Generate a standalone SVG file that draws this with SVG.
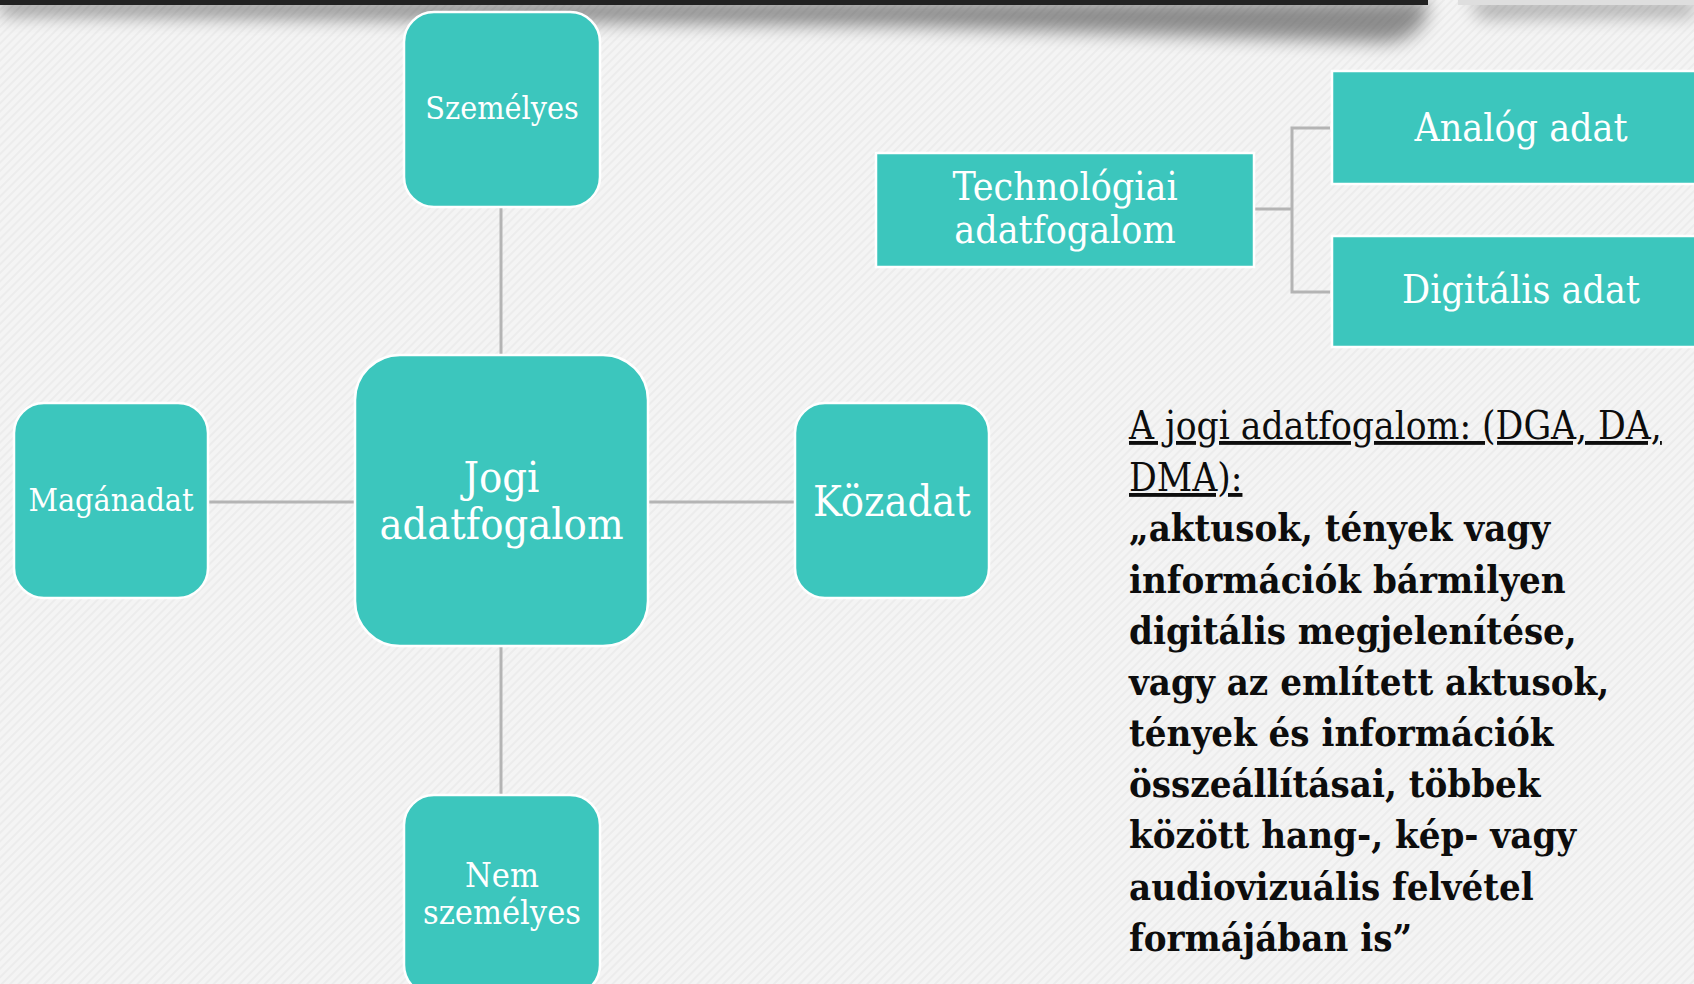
<svg xmlns="http://www.w3.org/2000/svg" width="1694" height="984" viewBox="0 0 1694 984">
<defs>
<style>
.node{fill:#3cc6bd;stroke:#ffffff;stroke-width:2.5}
.lbl{font-family:"DejaVu Serif Condensed","DejaVu Serif",serif;font-stretch:condensed;fill:#ffffff;text-anchor:middle}
.conn{stroke:#b4b4b4;stroke-width:3;fill:none}
.body{font-family:"DejaVu Serif Condensed","DejaVu Serif",serif;font-stretch:condensed;fill:#0d0d0d;font-size:38.5px}
.b{font-weight:bold;font-size:38px}
</style>
<pattern id="stripes" width="6" height="6" patternUnits="userSpaceOnUse" patternTransform="rotate(-45)">
<rect width="6" height="6" fill="#f4f4f4"/>
<rect width="6" height="2" fill="#ececec"/>
</pattern>
<filter id="blur" x="-10%" y="-200%" width="120%" height="500%">
<feGaussianBlur stdDeviation="9"/>
</filter>
</defs>
<rect width="1694" height="984" fill="url(#stripes)"/>
<g id="topbar">
<path d="M0,0 L1428,0 L1426,18 Q1412,46 1370,42 L900,26 L0,14 Z" fill="#000" opacity="0.42" filter="url(#blur)"/>
<path d="M1470,0 L1694,0 L1694,16 L1480,18 Z" fill="#000" opacity="0.3" filter="url(#blur)"/>
<rect x="0" y="0" width="1428" height="5" fill="#222222"/>
<rect x="1458" y="0" width="236" height="5" fill="#dedede"/>
</g>
<g id="connectors">
<line class="conn" x1="501" y1="207" x2="501" y2="355"/>
<line class="conn" x1="501" y1="646" x2="501" y2="795"/>
<line class="conn" x1="208" y1="502" x2="355" y2="502"/>
<line class="conn" x1="648" y1="502" x2="795" y2="502"/>
<polyline class="conn" points="1254,209 1292,209"/>
<polyline class="conn" points="1330,128 1292,128 1292,292 1330,292"/>
</g>
<g id="szemelyes">
<rect class="node" x="404" y="12" width="196" height="195" rx="30"/>
<text class="lbl" x="502" y="119" font-size="32">Személyes</text>
</g>
<g id="maganadat">
<rect class="node" x="14" y="403" width="194" height="195" rx="30"/>
<text class="lbl" x="111" y="511" font-size="32">Magánadat</text>
</g>
<g id="jogi">
<rect class="node" x="355" y="355" width="293" height="291" rx="45"/>
<text class="lbl" x="501.5" y="492" font-size="43">Jogi</text>
<text class="lbl" x="501.5" y="539" font-size="43">adatfogalom</text>
</g>
<g id="kozadat">
<rect class="node" x="795" y="403" width="194" height="195" rx="30"/>
<text class="lbl" x="892" y="516" font-size="43">Közadat</text>
</g>
<g id="nemszemelyes">
<rect class="node" x="404" y="795" width="196" height="200" rx="30"/>
<text class="lbl" x="502" y="887" font-size="34">Nem</text>
<text class="lbl" x="502" y="924" font-size="34">személyes</text>
</g>
<g id="technologiai">
<rect class="node" x="876" y="153" width="378" height="114"/>
<text class="lbl" x="1065" y="200" font-size="39">Technológiai</text>
<text class="lbl" x="1065" y="243" font-size="39">adatfogalom</text>
</g>
<g id="analog">
<rect class="node" x="1332" y="71" width="378" height="113"/>
<text class="lbl" x="1521" y="141" font-size="39">Analóg adat</text>
</g>
<g id="digitalis">
<rect class="node" x="1332" y="236" width="378" height="111"/>
<text class="lbl" x="1521" y="303" font-size="39">Digitális adat</text>
</g>
<g id="definition">
<text class="body" x="1129" y="439" text-decoration="underline">A jogi adatfogalom: (DGA, DA,</text>
<text class="body" x="1129" y="491" text-decoration="underline">DMA):</text>
<text class="body b" x="1129" y="541">„aktusok, tények vagy</text>
<text class="body b" x="1129" y="593">információk bármilyen</text>
<text class="body b" x="1129" y="644">digitális megjelenítése,</text>
<text class="body b" x="1129" y="695">vagy az említett aktusok,</text>
<text class="body b" x="1129" y="746">tények és információk</text>
<text class="body b" x="1129" y="797">összeállításai, többek</text>
<text class="body b" x="1129" y="848">között hang-, kép- vagy</text>
<text class="body b" x="1129" y="900">audiovizuális felvétel</text>
<text class="body b" x="1129" y="951">formájában is”</text>
</g>
</svg>
